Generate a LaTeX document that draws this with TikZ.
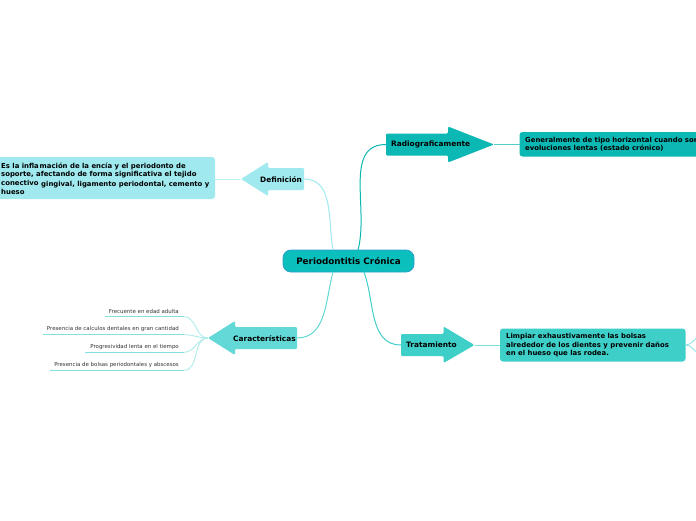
\documentclass[tikz,border=0pt]{standalone}
\usepackage{fontspec}
\setmainfont{DejaVu Sans}
\begin{document}
\begin{tikzpicture}[x=1pt,y=-1pt,
  lbl/.style={inner sep=0pt,anchor=west,font=\bfseries\fontsize{6.9}{8.5}\selectfont,text=black},
  big/.style={inner sep=0pt,anchor=west,font=\bfseries\fontsize{7.4}{8.5}\selectfont,text=black},
  small/.style={inner sep=0pt,anchor=east,font=\fontsize{5.45}{6.5}\selectfont,text=black!80},
  conn/.style={line width=1pt},
  thin/.style={line width=0.8pt}]
\definecolor{cMain}{HTML}{0ABFBC}
\definecolor{cMainB}{HTML}{2A9FCF}
\definecolor{cRad}{HTML}{0CB8B4}
\definecolor{cTrat}{HTML}{3FCFC9}
\definecolor{cDef}{HTML}{9FE9EF}
\definecolor{cCar}{HTML}{62D9D6}
\useasboundingbox (0,0) rectangle (696,520);
\clip (0,0) rectangle (696,520);
\fill[white] (0,0) rectangle (696,520);

% central
\node[draw=cMainB,fill=cMain,rounded corners=8pt,line width=0.8pt,minimum width=131pt,minimum height=22pt,inner sep=0pt,
  font=\bfseries\fontsize{8.8}{10}\selectfont] (main) at (348.5,261) {Periodontitis Crónica};

% Radiograficamente
\fill[cRad,rounded corners=1.2pt] (386,133.5) -- (448,133.5) -- (448,126.5) -- (494,144.5) -- (448,162.5) -- (448,155.5) -- (386,155.5) -- cycle;
\node[big] (rad) at (391,144.5) {Radiograficamente};
\coordinate (radL) at (386,144.5);
\coordinate (radR) at (494,144.5);
\fill[cRad,rounded corners=3pt] (519.5,132) rectangle (720,156.5);
\coordinate (radCL) at (519.5,144.5);
\node[lbl,align=left] (radtxt) at (525,144.5) {Generalmente de tipo horizontal cuando son\\evoluciones lentas (estado crónico)};
\draw[thin,cRad!70] (radR) -- (radCL);

% Tratamiento
\fill[cTrat,rounded corners=1.2pt] (401,334) -- (443.5,334) -- (443.5,326.5) -- (474.5,345) -- (443.5,363) -- (443.5,356) -- (401,356) -- cycle;
\node[big] (trat) at (406,345) {Tratamiento};
\coordinate (tratL) at (401,345);
\coordinate (tratR) at (474.5,345);
\fill[cTrat,rounded corners=3pt] (500,328.5) rectangle (685.5,361.5);
\coordinate (tratCL) at (500,345);
\coordinate (tratCR) at (685.5,345);
\node[lbl,align=left] (trattxt) at (506,345.5) {Limpiar exhaustivamente las bolsas\\alrededor de los dientes y prevenir daños\\en el hueso que las rodea.};
\draw[thin,cTrat!70] (tratR) -- (tratCL);
\coordinate (offA) at (700,336);
\coordinate (offB) at (700,354);
\draw[thin,cTrat!60] (tratCR) to[out=0,in=200] (offA);
\draw[thin,cTrat!60] (tratCR) to[out=0,in=160] (offB);

% Definicion
\fill[cDef,rounded corners=1.2pt] (304,168) -- (268,168) -- (268,162) -- (241,179) -- (268,196) -- (268,190) -- (304,190) -- cycle;
\node[big] (def) at (260,179.5) {Definición};
\coordinate (defL) at (241,179);
\coordinate (defR) at (304,179);
\fill[cDef,rounded corners=3pt] (-10,157) rectangle (215,199);
\coordinate (defCR) at (215,179);
\node[lbl] (d1) at (1,165.5) {Es la infla};
\node[lbl] (d2) at (39.5,166.7) {mación de la encía y el periodonto de};
\node[lbl] (d3) at (1,175) {soporte, afectando de forma significativa el tejido};
\node[lbl] (d4) at (1,183.3) {conectivo};
\node[lbl] (d5) at (41,184.5) {gingival, ligamento periodontal, cemento y};
\node[lbl] (d6) at (1,191.7) {hueso};
\draw[thin,cDef!70] (defCR) -- (defL);

% Caracteristicas
\fill[cCar,rounded corners=1.2pt] (297,327) -- (235,327) -- (235,321) -- (208,338) -- (235,355) -- (235,349) -- (297,349) -- cycle;
\node[big] (car) at (233,338.5) {Características};
\coordinate (carL) at (208,338);
\coordinate (carR) at (297,338);

\node[small] (s1) at (179,311) {Frecuente en edad adulta};
\node[small] (s2) at (179,329) {Presencia de calculos dentales en gran cantidad};
\node[small] (s3) at (179,346.7) {Progresividad lenta en el tiempo};
\node[small] (s4) at (179,364.5) {Presencia de bolsas periodontales y abscesos};
\coordinate (u1a) at (105,316.7); \coordinate (u1b) at (184,316.7);
\coordinate (u2a) at (43,334.7); \coordinate (u2b) at (184,334.7);
\coordinate (u3a) at (85,352.3); \coordinate (u3b) at (184,352.3);
\coordinate (u4a) at (50,370.3); \coordinate (u4b) at (184,370.3);
\foreach \i in {1,...,4}{
  \draw[line width=1.1pt,cCar!80] (u\i a) -- (u\i b);
  \draw[thin,cCar!55] (u\i b) to[out=0,in=180] (carL);
}

% main connectors
\draw[conn,cDef] (defR) to[out=0,in=100] (333,250);
\draw[conn,cRad] (radL) to[out=180,in=75] (358,250);
\draw[conn,cCar] (carR) to[out=0,in=255] (333,272);
\draw[conn,cTrat] (tratL) to[out=180,in=290] (364,272);
\end{tikzpicture}
\end{document}
